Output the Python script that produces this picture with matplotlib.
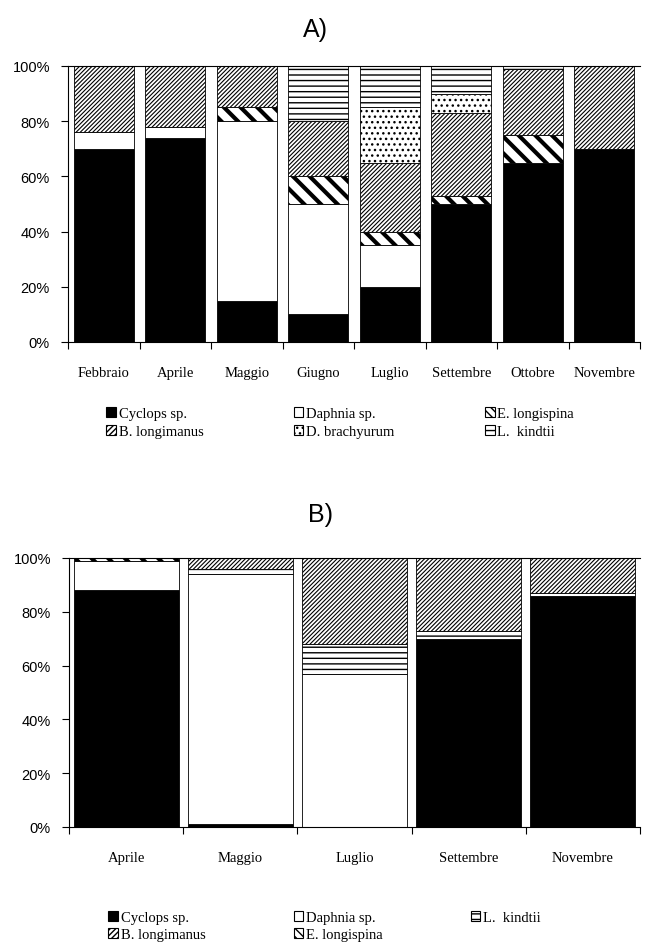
import numpy as np
import matplotlib
matplotlib.use('Agg')
import matplotlib.pyplot as plt
from matplotlib.patches import Patch
from matplotlib.ticker import FixedLocator, PercentFormatter

# A) composition by month
months_a = ['Febbraio', 'Aprile', 'Maggio', 'Giugno', 'Luglio', 'Settembre', 'Ottobre', 'Novembre']
cyclops_a = [70, 74, 15, 10, 20, 50, 65, 70]
daphnia_a = [6, 4, 65, 40, 15, 0, 0, 0]
elong_a = [0, 0, 5, 10, 5, 3, 10, 0]
blong_a = [24, 22, 15, 20, 25, 30, 24, 30]
dbrach_a = [0, 0, 0, 0, 20, 7, 0, 0]
lkind_a = [0, 0, 0, 20, 15, 10, 1, 0]

# B) composition by month
months_b = ['Aprile', 'Maggio', 'Luglio', 'Settembre', 'Novembre']
cyclops_b = [88, 1, 0, 70, 86]
daphnia_b = [11, 93, 57, 0, 0]
lkind_b = [0, 2, 11, 3, 1]
blong_b = [0, 4, 32, 27, 13]
elong_b = [1, 0, 0, 0, 0]

# facecolor, hatch, hatch linewidth (bars), hatch for legend icon
styles = {
    'Cyclops sp.': dict(facecolor='black', hatch=None, hlw=1.0, lhatch=None),
    'Daphnia sp.': dict(facecolor='white', hatch=None, hlw=1.0, lhatch=None),
    'E. longispina': dict(facecolor='white', hatch='\\\\', hlw=3.0, lhatch='\\\\\\\\'),
    'B. longimanus': dict(facecolor='white', hatch='////////', hlw=0.8, lhatch='//////'),
    'D. brachyurum': dict(facecolor='white', hatch='...', hlw=1.0, lhatch='...'),
    'L.  kindtii': dict(facecolor='white', hatch='---', hlw=1.0, lhatch='---'),
}

serif = 'Liberation Serif'
sans = 'Liberation Sans'
W, H = 645, 945


def set_hlw(p, lw):
    if hasattr(p, 'set_hatch_linewidth'):
        p.set_hatch_linewidth(lw)


def stacked(ax, months, series, width):
    x = np.arange(len(months))
    bottom = np.zeros(len(months))
    for name, vals in series:
        st = styles[name]
        bars = ax.bar(x, vals, width, bottom=bottom, facecolor=st['facecolor'],
                      edgecolor='black', linewidth=0.6, hatch=st['hatch'])
        for b in bars:
            set_hlw(b, st['hlw'])
        bottom += np.array(vals)
    n = len(months)
    ax.set_xlim(-0.5, n - 0.5)
    ax.set_ylim(0, 100)
    ax.xaxis.set_major_locator(FixedLocator(x))
    ax.set_xticklabels(months, fontfamily=serif, fontsize=10.5)
    ax.xaxis.set_minor_locator(FixedLocator(np.arange(n + 1) - 0.5))
    ax.tick_params(axis='x', which='major', length=0, pad=17)
    ax.tick_params(axis='x', which='minor', length=5, direction='out', width=0.8)
    ax.set_yticks(np.arange(0, 101, 20))
    ax.yaxis.set_major_formatter(PercentFormatter(decimals=0))
    ax.tick_params(axis='y', length=5, direction='out', width=0.8, pad=8)
    for lab in ax.get_yticklabels():
        lab.set_fontfamily(sans)
        lab.set_fontsize(10.5)
    ax.spines['right'].set_visible(False)
    for s in ['left', 'bottom', 'top']:
        ax.spines[s].set_linewidth(0.8)


def legend_handles(names):
    hs = []
    for name in names:
        st = styles[name]
        p = Patch(facecolor=st['facecolor'], edgecolor='black', linewidth=0.8,
                  hatch=st['lhatch'], label=name)
        set_hlw(p, 1.5 if name == 'E. longispina' else 1.0)
        hs.append(p)
    return hs


fig = plt.figure(figsize=(W / 100, H / 100), dpi=100)

ax1 = fig.add_axes([68 / W, 1 - 343 / H, 572 / W, 276 / H])
stacked(ax1, months_a, [('Cyclops sp.', cyclops_a), ('Daphnia sp.', daphnia_a),
                        ('E. longispina', elong_a), ('B. longimanus', blong_a),
                        ('D. brachyurum', dbrach_a), ('L.  kindtii', lkind_a)], 0.84)
order_a = ['Cyclops sp.', 'B. longimanus', 'Daphnia sp.', 'D. brachyurum', 'E. longispina', 'L.  kindtii']
fig.legend(handles=legend_handles(order_a), ncol=3, loc='upper left',
           bbox_to_anchor=(99 / W, 1 - 401 / H), frameon=False,
           prop={'family': serif, 'size': 10.5}, handlelength=0.65, handleheight=0.65,
           handletextpad=0.2, columnspacing=6.2, labelspacing=0.35, borderpad=0)
fig.text(315 / W, 1 - 30 / H, 'A)', fontfamily=sans, fontsize=18, ha='center', va='center')

ax2 = fig.add_axes([69 / W, 1 - 828 / H, 571 / W, 269 / H])
stacked(ax2, months_b, [('Cyclops sp.', cyclops_b), ('Daphnia sp.', daphnia_b),
                        ('L.  kindtii', lkind_b), ('B. longimanus', blong_b),
                        ('E. longispina', elong_b)], 0.92)
order_b = ['Cyclops sp.', 'B. longimanus', 'Daphnia sp.', 'E. longispina', 'L.  kindtii']
fig.legend(handles=legend_handles(order_b), ncol=3, loc='upper left',
           bbox_to_anchor=(101 / W, 1 - 905 / H), frameon=False,
           prop={'family': serif, 'size': 10.5}, handlelength=0.65, handleheight=0.65,
           handletextpad=0.2, columnspacing=6.05, labelspacing=0.25, borderpad=0)
fig.text(320 / W, 1 - 515 / H, 'B)', fontfamily=sans, fontsize=18, ha='center', va='center')

fig.savefig('out.png', dpi=100)
